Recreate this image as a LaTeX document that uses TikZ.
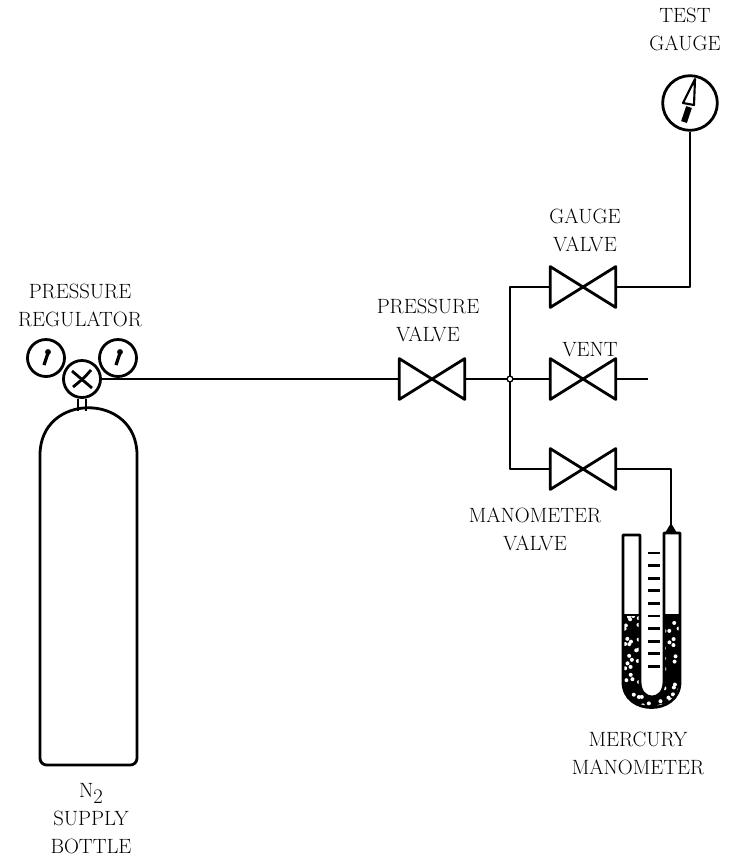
\documentclass[tikz,border=0pt]{standalone}
\begin{document}
\begin{tikzpicture}
  [x=0.75pt,y=-0.75pt,line width=2.1pt,line join=round,
   every node/.style={inner sep=0pt},
   lbl/.style={font=\fontsize{15.5}{21}\selectfont,align=center},
   valvebox/.style={minimum width=47pt,minimum height=28.5pt},
   dial/.style={circle,draw,minimum size=#1}]
  \useasboundingbox (0,0) rectangle (731,858);

  % regulator on the bottle
  \node[dial=27.75pt] (lgauge) at (46,358) {};
  \node[dial=27.75pt] (rgauge) at (118,358) {};
  \node[dial=27.75pt,fill=white] (reg) at (82,379) {};

  % valves and test gauge
  \node[valvebox] (pvalve) at (432,379) {};
  \node[valvebox] (gvalve) at (583,287) {};
  \node[valvebox] (vvalve) at (583,379) {};
  \node[valvebox] (mvalve) at (583,469) {};
  \foreach \v in {pvalve,gvalve,vvalve,mvalve}
    \draw (\v.north west) -- (\v.south east) -- (\v.north east) -- (\v.south west) -- cycle;
  \node[dial=41pt] (tgauge) at (690,103) {};

  \coordinate (jn) at (510,379);
  \coordinate (ventend) at (648,379);
  \coordinate (mtop) at (671,526);

  % piping
  \draw (reg.east) -- (pvalve.west);
  \draw (pvalve.east) -- (jn) -- (vvalve.west);
  \draw (vvalve.east) -- (ventend);
  \draw (gvalve.west) -| (jn) |- (mvalve.west);
  \draw (gvalve.east) -| (tgauge.south);
  \draw (mvalve.east) -| (mtop);
  \draw[fill=white,line width=1pt] (jn) circle (2.2pt);

  % bottle
  \draw[rounded corners=5pt] (40,455) -- (40,765) -- (137,765) -- (137,455);
  \draw (40,455) .. controls (40,392) and (137,392) .. (137,455);
  \draw[line width=1.6pt] ([xshift=-3pt]reg.south) -- ++(0,12);
  \draw[line width=1.6pt] ([xshift=3pt]reg.south) -- ++(0,12);

  % pointers
  \foreach \g in {lgauge,rgauge}{
    \begin{scope}[shift={(\g.center)},line width=2.4pt]
      \draw (-2,7) -- (2,-5);
      \fill (2,-6) circle (2.2pt);
    \end{scope}
  }
  \begin{scope}[shift={(reg.center)}]
    \draw (-10,-8) .. controls (0,0) .. (10,9);
    \draw (9,-9) .. controls (2,-1) .. (-9,8);
  \end{scope}
  \begin{scope}[shift={(tgauge.center)}]
    \draw[fill=white,line width=1.6pt] (5,-24) -- (-7,0) -- (4,2) -- cycle;
    \draw[line width=4.5pt] (-1,4) -- (-6,19);
  \end{scope}

  % mercury manometer
  \begin{scope}
    \clip (623,615) -- (623,682) .. controls (623,716) and (680,716) .. (680,682)
      -- (680,615) -- (664,615) -- (664,682) .. controls (664,702) and (640,702) .. (640,682)
      -- (640,615) -- cycle;
    \fill (618,610) rectangle (685,715);
    \pgfmathsetseed{7}
    \foreach \k in {1,...,90}
      \fill[white] ({623+57*rnd},{615+95*rnd}) circle (1.5pt);
  \end{scope}
  \draw (623,535) -- (623,682) .. controls (623,716) and (680,716) .. (680,682) -- (680,533) -- (664,533)
    -- (664,682) .. controls (664,702) and (640,702) .. (640,682) -- (640,535) -- cycle;
  \draw[line width=1.2pt] (623,615) -- (640,615) (664,615) -- (680,615);
  \fill (665,533) -- (671,523) -- (677,533) -- cycle;
  \foreach \k in {0,...,9}
    \draw[line width=2.2pt] (648,{553+12.6*\k}) -- (660,{553+12.6*\k});

  % labels
  \node[lbl] (reglbl) at (80,305) {PRESSURE\\REGULATOR};
  \node[lbl] (pvlbl) at (428,320) {PRESSURE\\VALVE};
  \node[lbl] (gvlbl) at (585,230) {GAUGE\\VALVE};
  \node[lbl] (ventlbl) at (590,350) {VENT};
  \node[lbl] (mvlbl) at (535,529) {MANOMETER\\VALVE};
  \node[lbl] (tglbl) at (685,29) {TEST\\GAUGE};
  \node[lbl] (hglbl) at (638,753) {MERCURY\\MANOMETER};
  \node[lbl] (botlbl) at (91,819) {N\raisebox{-4pt}{2}\\SUPPLY\\BOTTLE};
\end{tikzpicture}
\end{document}
